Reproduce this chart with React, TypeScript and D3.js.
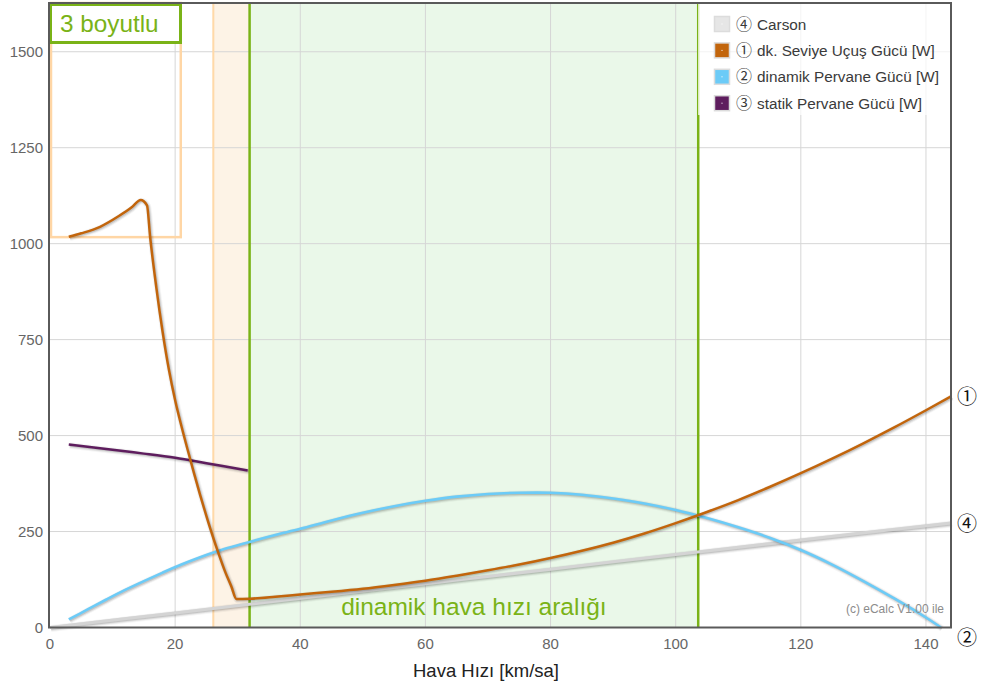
import * as d3 from "d3";

// ---- data ----
const xTicks = [0, 20, 40, 60, 80, 100, 120, 140];
const yTicks = [0, 250, 500, 750, 1000, 1250, 1500];

// ① dk. Seviye Uçuş Gücü [W]  (speed km/sa, power W)
const levelFlight: [number, number][] = [
  [3, 1018], [5, 1027], [8, 1044], [11, 1072], [13, 1094], [14.5, 1114], [15.5, 1100],
  [16, 1018], [17, 885], [18, 770], [19, 672], [20, 592], [21, 525], [22, 463], [23, 403],
  [24, 345], [25, 290], [26, 238], [27, 190], [28, 145], [29, 106], [29.8, 74], [32, 75],
  [36, 80], [40, 86], [45, 93], [50, 101], [55, 111], [60, 122], [65, 135], [70, 149],
  [75, 164], [80, 181], [85, 200], [90, 221], [95, 245], [100, 272], [105, 301], [110, 332],
  [115, 366], [120, 402], [125, 440], [130, 480], [135, 522], [140, 566], [144, 602],
];
// ② dinamik Pervane Gücü [W]
const dynProp: [number, number][] = [
  [3, 21], [6, 47], [9, 73], [12, 98], [15, 121], [18, 143], [21, 164], [24, 183], [27, 200],
  [30, 214], [33, 228], [36, 241], [40, 257], [45, 279], [50, 299], [55, 316], [60, 330],
  [65, 341], [70, 348], [75, 351], [80, 351], [85, 346], [90, 336], [95, 323], [100, 306],
  [105, 285], [110, 261], [115, 234], [120, 202], [125, 164], [130, 121], [135, 75],
  [140, 26], [142.4, 0],
];
// ③ statik Pervane Gücü [W]
const staticProp: [number, number][] = [
  [3, 477], [10, 463], [15, 453], [20, 442], [25, 428], [31.6, 409],
];
// ④ Carson
const carson: [number, number][] = [
  [0, 0], [20, 38], [40, 76], [60, 114], [80, 152], [100, 190], [120, 228], [144, 272],
];

const orangeBand = [26.1, 31.9];
const greenBand = [31.9, 103.6];
const insetX = [0, 20.9];
const insetY = [1017, 1627];

const legendMarks = ["④", "①", "②", "③"];
const legendLabels = ["Carson", "dk. Seviye Uçuş Gücü [W]", "dinamik Pervane Gücü [W]", "statik Pervane Gücü [W]"];
const legendColors = ["#e6e6e6", "#c2650c", "#6ccbf7", "#5e1d5e"];

const FONT = "'Liberation Sans', Arial, 'DejaVu Sans', sans-serif";
const MARK_FONT = "'Noto Sans CJK JP', 'DejaVu Sans', sans-serif";

export default function App() {
  const W = 981, H = 688;
  const x = d3.scaleLinear().domain([0, 144]).range([50, 951]);
  const y = d3.scaleLinear().domain([0, 1627]).range([627.5, 3]);
  const [x0, x1] = x.range();
  const [y0, y1] = y.range();

  const lineMono = d3.line<[number, number]>()
    .x((d) => x(d[0]))
    .y((d) => y(d[1]))
    .curve(d3.curveMonotoneX);
  const lineSmooth = d3.line<[number, number]>()
    .x((d) => x(d[0]))
    .y((d) => y(d[1]))
    .curve(d3.curveCatmullRom.alpha(0.5));

  const series = [
    { data: carson, color: "#d4d4d4", w: 3, mark: "④", gen: lineSmooth },
    { data: staticProp, color: "#5e1d5e", w: 2.5, mark: null, gen: lineSmooth },
    { data: dynProp, color: "#6ccbf7", w: 2.6, mark: "②", gen: lineSmooth },
    { data: levelFlight, color: "#c2650c", w: 2.5, mark: "①", gen: lineMono },
  ];

  return (
    <svg width={W} height={H} style={{ position: "absolute", left: 0, top: 0, fontFamily: FONT }}>
      <rect width={W} height={H} fill="#fff" />

      {/* bands */}
      <rect x={x(orangeBand[0])} y={y1} width={x(orangeBand[1]) - x(orangeBand[0])} height={y0 - y1} fill="#fdf3e6" />
      <rect x={x(greenBand[0])} y={y1} width={x(greenBand[1]) - x(greenBand[0])} height={y0 - y1} fill="#eaf8e9" />

      {/* grid */}
      {xTicks.filter((t) => t > 0).map((t) => (
        <line key={"gx" + t} x1={x(t)} x2={x(t)} y1={y1} y2={y0} stroke="#d6d6d6" strokeWidth={1} />
      ))}
      {yTicks.filter((t) => t > 0).map((t) => (
        <line key={"gy" + t} x1={x0} x2={x1} y1={y(t)} y2={y(t)} stroke="#d6d6d6" strokeWidth={1} />
      ))}

      {/* band edges */}
      <line x1={x(orangeBand[0])} x2={x(orangeBand[0])} y1={y1} y2={y0} stroke="#ffd9a8" strokeWidth={2} />
      <line x1={x(greenBand[0])} x2={x(greenBand[0])} y1={y1} y2={y0} stroke="#7ab317" strokeWidth={2.5} />
      <line x1={x(greenBand[1])} x2={x(greenBand[1])} y1={y1} y2={y0} stroke="#7ab317" strokeWidth={2.5} />

      {/* inset box */}
      <rect x={x(insetX[0]) + 1} y={y(insetY[1])} width={x(insetX[1]) - x(insetX[0]) - 1}
        height={y(insetY[0]) - y(insetY[1])} fill="none" stroke="#ffd6a5" strokeWidth={2.5} />

      {/* series with soft shadow */}
      {series.map((s, i) => {
        const d = s.gen(s.data) || "";
        return (
          <g key={"s" + i}>
            <g transform="translate(1,1)" fill="none" stroke="#000">
              <path d={d} strokeWidth={s.w + 4} strokeOpacity={0.04} />
              <path d={d} strokeWidth={s.w + 2} strokeOpacity={0.08} />
              <path d={d} strokeWidth={s.w} strokeOpacity={0.12} />
            </g>
            <path d={d} fill="none" stroke={s.color} strokeWidth={s.w} strokeLinejoin="round" />
          </g>
        );
      })}

      {/* band label */}
      <text x={(x(greenBand[0]) + x(greenBand[1])) / 2} y={615} textAnchor="middle" fontSize={24.5} fill="#7ab317">
        dinamik hava hızı aralığı
      </text>

      {/* watermark */}
      <text x={944} y={613} textAnchor="end" fontSize={12} fill="#8c8c8c">(c) eCalc V1.00 ile</text>

      {/* legend */}
      <rect x={698} y={y1} width={x1 - 698} height={112} fill="#fff" fillOpacity={0.72} />
      {legendLabels.map((lab, i) => {
        const cy = 24 + i * 26.4;
        return (
          <g key={"lg" + i}>
            <rect x={714.5} y={cy - 7.5} width={15} height={15} fill={legendColors[i]} stroke="#dcdcdc" strokeWidth={1.5} />
            <rect x={721.5} y={cy - 0.5} width={1} height={1} fill="#fff" />
            <text x={736} y={cy + 5.5} fontSize={16} fill="#3a3a3a" fontFamily={MARK_FONT}>{legendMarks[i]}</text>
            <text x={757} y={cy + 5.5} fontSize={15.3} fill="#3a3a3a">{lab}</text>
          </g>
        );
      })}

      {/* "3 boyutlu" box */}
      <rect x={50.5} y={4.5} width={130} height={38} fill="#fff" stroke="#7ab317" strokeWidth={3} />
      <text x={60} y={32} fontSize={24.3} fill="#7ab317">3 boyutlu</text>

      {/* frame */}
      <rect x={x0 - 1} y={y1} width={x1 - x0 + 1} height={y0 - y1} fill="none" stroke="#5a5a5a" strokeWidth={2} />

      {/* ticks */}
      {yTicks.map((t) => (
        <text key={"yt" + t} x={43} y={y(t) + 5} textAnchor="end" fontSize={15} fill="#666">{t}</text>
      ))}
      {xTicks.map((t) => (
        <text key={"xt" + t} x={x(t)} y={649} textAnchor="middle" fontSize={15} fill="#666">{t}</text>
      ))}

      {/* end markers */}
      {series.filter((s) => s.mark).map((s) => {
        const last = s.data[s.data.length - 1];
        const py = Math.min(y(last[1]), y0 - 9) + (last[1] === 0 ? 18 : 0);
        return (
          <text key={"m" + s.mark} x={957} y={py + 8} fontSize={20} fill="#111" fontFamily={MARK_FONT}>{s.mark}</text>
        );
      })}

      {/* axis title */}
      <text x={486} y={677} textAnchor="middle" fontSize={18.5} fill="#222">Hava Hızı [km/sa]</text>
    </svg>
  );
}
